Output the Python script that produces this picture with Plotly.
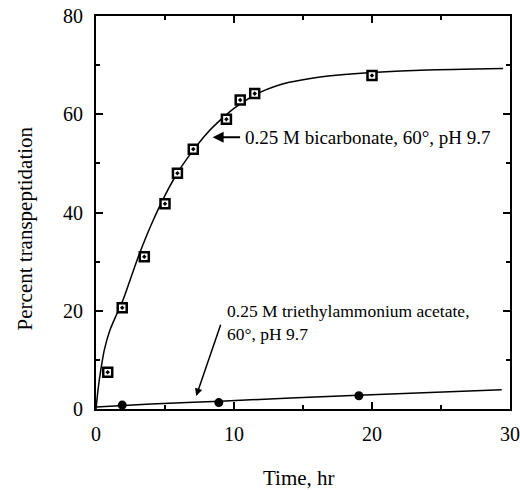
import plotly.graph_objects as go

# Bicarbonate data (squares)
bicarb_time = [0.85, 1.9, 3.5, 5.0, 5.9, 7.05, 9.45, 10.45, 11.5, 20.0]
bicarb_pct = [7.5, 20.6, 31.0, 41.8, 48.0, 52.9, 59.0, 62.9, 64.2, 67.9]
# Bicarbonate fitted curve
bicarb_curve_t = [0, 0.15, 0.35, 0.6, 1, 1.5, 2, 3, 4, 5, 6, 7, 8, 9, 10, 11, 12, 13, 14, 16, 18, 20, 24, 29.5]
bicarb_curve_y = [0, 4, 8, 12, 16, 19.3, 22.5, 30.5, 37.5, 43.5, 48.5, 52.5, 56, 58.8, 61.2, 63.1, 64.6,
                  65.7, 66.5, 67.5, 68.1, 68.5, 69.0, 69.3]

# Triethylammonium acetate data (filled circles)
tea_time = [1.9, 8.9, 19.05]
tea_pct = [0.8, 1.3, 2.7]
tea_curve_t = [0, 4, 9, 19, 29.4]
tea_curve_y = [0.4, 1.0, 1.6, 2.8, 3.9]

x_ticks = [0, 10, 20, 30]
y_ticks = [0, 20, 40, 60, 80]

FONT = "Liberation Serif, Times New Roman, serif"

fig = go.Figure()
fig.add_trace(go.Scatter(x=bicarb_curve_t, y=bicarb_curve_y, mode="lines",
                         line=dict(color="black", width=1.5, shape="spline", smoothing=0.6),
                         hoverinfo="skip"))
fig.add_trace(go.Scatter(x=tea_curve_t, y=tea_curve_y, mode="lines",
                         line=dict(color="black", width=1.5, shape="spline", smoothing=0.6),
                         hoverinfo="skip"))
fig.add_trace(go.Scatter(x=bicarb_time, y=bicarb_pct, mode="markers",
                         marker=dict(symbol="square-dot", size=9, color="white",
                                     line=dict(color="black", width=2.5))))
fig.add_trace(go.Scatter(x=tea_time, y=tea_pct, mode="markers",
                         marker=dict(symbol="circle", size=9, color="black")))

# Text annotations
fig.add_annotation(x=10.65, y=55.3, xref="x", yref="y", text="0.25 M bicarbonate, 60°, pH 9.7",
                   showarrow=False, xanchor="left", yanchor="middle",
                   font=dict(family=FONT, size=19, color="black"))
fig.add_annotation(x=8.45, y=55.3, ax=10.55, ay=55.3, xref="x", yref="y", axref="x", ayref="y",
                   text="", showarrow=True, arrowhead=2, arrowsize=1.1, arrowwidth=2, arrowcolor="black")
fig.add_annotation(x=9.35, y=17.6, xref="x", yref="y",
                   text="0.25 M triethylammonium acetate,<br>60°, pH 9.7",
                   showarrow=False, xanchor="left", yanchor="middle", align="left",
                   font=dict(family=FONT, size=17.5, color="black"))
fig.add_annotation(x=7.26, y=2.65, ax=9.07, ay=17.45, xref="x", yref="y", axref="x", ayref="y",
                   text="", showarrow=True, arrowhead=2, arrowsize=1, arrowwidth=1.5, arrowcolor="black")

# Axis titles (plot area: x 96..510, y 16..409 in page pixels)
fig.add_annotation(x=-0.171, y=0.46, xref="paper", yref="paper", text="Percent transpeptidation",
                   textangle=-90, showarrow=False, xanchor="center", yanchor="middle",
                   font=dict(family=FONT, size=21, color="black"))
fig.add_annotation(x=0.49, y=-0.176, xref="paper", yref="paper", text="Time, hr",
                   showarrow=False, xanchor="center", yanchor="middle",
                   font=dict(family=FONT, size=21, color="black"))

fig.update_xaxes(range=[0, 30], tickvals=x_ticks, ticks="inside", ticklen=7, tickwidth=1.5,
                 tickcolor="black", showline=True, linewidth=2, linecolor="black", mirror="allticks",
                 showgrid=False, zeroline=False, ticklabelstandoff=6, automargin=False,
                 ticklabeloverflow="allow",
                 minor=dict(dtick=5, tick0=0, ticks="inside", ticklen=4, tickcolor="black", tickwidth=1.5),
                 tickfont=dict(family=FONT, size=20, color="black"))
fig.update_yaxes(range=[0, 80], tickvals=y_ticks, ticks="inside", ticklen=7, tickwidth=1.5,
                 tickcolor="black", showline=True, linewidth=2, linecolor="black", mirror="allticks",
                 showgrid=False, zeroline=False, ticklabelstandoff=7, automargin=False,
                 ticklabeloverflow="allow",
                 minor=dict(dtick=10, tick0=0, ticks="inside", ticklen=4, tickcolor="black", tickwidth=1.5),
                 tickfont=dict(family=FONT, size=20, color="black"))

fig.update_layout(width=520, height=490, margin=dict(l=96, r=10, t=16, b=81),
                  plot_bgcolor="white", paper_bgcolor="white", showlegend=False)

fig.write_html("out.html", config={"displayModeBar": False},
               post_script="document.body.style.margin='0';")
